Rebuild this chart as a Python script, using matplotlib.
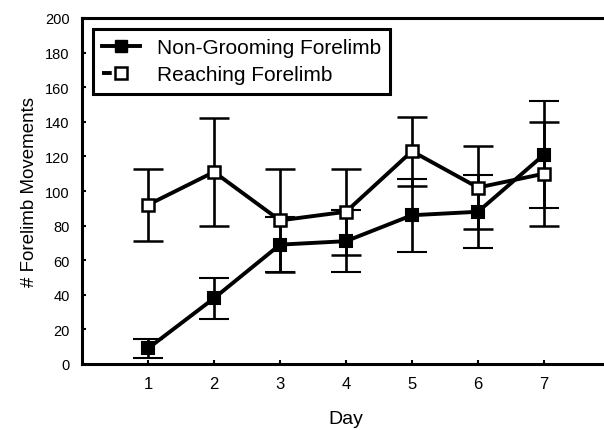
import matplotlib.pyplot as plt
from matplotlib.lines import Line2D

plt.rcParams['font.family'] = ['Liberation Sans', 'DejaVu Sans']

days = [1, 2, 3, 4, 5, 6, 7]

# mean number of forelimb movements per day, with standard error
non_grooming = [9, 38, 69, 71, 86, 88, 121]
non_grooming_err = [5.5, 12, 16, 18, 21, 21, 31]
reaching = [92, 111, 83, 88, 123, 102, 110]
reaching_err = [21, 31, 30, 25, 20, 24, 30]

yticks = [0, 20, 40, 60, 80, 100, 120, 140, 160, 180, 200]

fig = plt.figure(figsize=(6.04, 4.31), dpi=100)
ax = fig.add_axes([82 / 604, 66 / 431, 528 / 604, 346 / 431])

ax.errorbar(days, non_grooming, yerr=non_grooming_err, fmt='-s', color='black',
            lw=2.8, ms=8, mfc='black', mec='black', mew=1.5,
            elinewidth=1.9, capsize=11, capthick=2.4)
ax.errorbar(days, reaching, yerr=reaching_err, fmt='-s', color='black',
            lw=2.8, ms=8, mfc='white', mec='black', mew=1.8,
            elinewidth=1.9, capsize=11, capthick=2.4)

ax.set_xlim(0, 8)
ax.set_ylim(0, 200)
ax.set_xticks(days)
ax.set_yticks(yticks)
ax.tick_params(direction='in', length=3, width=1.5, pad=9)
ax.tick_params(axis='y', labelsize=10.5)
ax.tick_params(axis='x', labelsize=12, pad=9)
for side in ['left', 'bottom', 'top', 'right']:
    ax.spines[side].set_linewidth(2.2)

ax.set_xlabel('Day', fontsize=14, labelpad=13)
ax.set_ylabel('# Forelimb Movements', fontsize=13.5, labelpad=5)

handles = [
    Line2D([], [], color='black', lw=2.8, marker='s', ms=8, mfc='black'),
    Line2D([], [], color='black', lw=2.8, ls=(0, (2.5, 100)), marker='s', ms=8,
           mfc='white', mew=1.8),
]
leg = ax.legend(handles, ['Non-Grooming Forelimb', 'Reaching Forelimb'],
                loc='upper left', bbox_to_anchor=(93 / 604, 1 - 30 / 431),
                bbox_transform=fig.transFigure, fontsize=15, frameon=True,
                fancybox=False, framealpha=1, edgecolor='black',
                borderaxespad=0, handlelength=1.8, handletextpad=0.8,
                borderpad=0.45, labelspacing=0.38)
leg.get_frame().set_linewidth(2.2)

fig.savefig('out.png', dpi=100)
